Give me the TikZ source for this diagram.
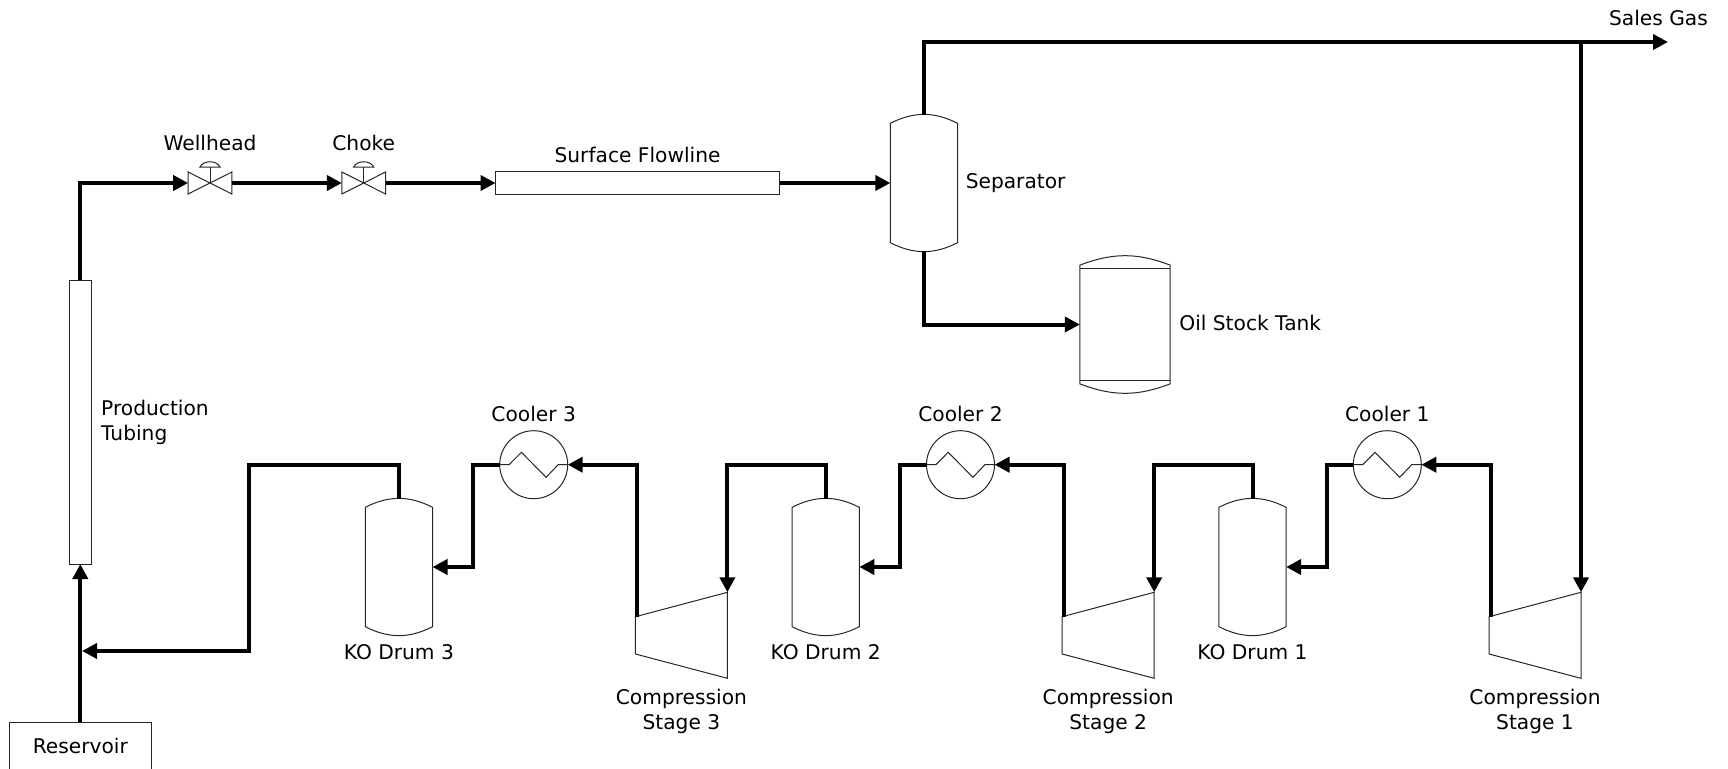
\documentclass[tikz,border=0pt]{standalone}
\usepackage{fontspec}
\setmainfont{DejaVu Sans}
\usetikzlibrary{arrows.meta,positioning,calc}
\tikzset{
 pipe/.style={-{Triangle[length=15pt,width=15pt]}, line width=4pt, draw=black},
 eqline/.style={line width=1pt, draw=black!85},
 slot/.style={rectangle, inner sep=0pt, outer sep=0pt},
 eqbox/.style={slot, draw=black!85, line width=1pt},
 valveslot/.style={slot, minimum width=43.7pt, minimum height=22pt},
 vesselslot/.style={slot, minimum width=67.2pt, minimum height=136pt},
 compslot/.style={slot, minimum width=92pt, minimum height=86pt},
 coolerblock/.style={circle, draw=black!85, line width=1pt, inner sep=0pt,
 outer sep=0pt, minimum size=68pt},
 tag/.style={font=\fontsize{20.2}{25}\selectfont, inner sep=0pt, align=center,
 text height=15pt, text depth=4pt},
 tagtwo/.style={font=\fontsize{20.2}{25}\selectfont, inner sep=0pt},
}
% vessel outline from the bounding node, #2 is the bend of the heads
\newcommand{\vesseloutline}[2]{%
 \draw[eqline] ($(#1.north west)+(0,8.3)$) to[bend left=#2] ($(#1.north east)+(0,8.3)$)
  -- ($(#1.south east)+(0,-8.3)$) to[bend left=#2] ($(#1.south west)+(0,-8.3)$) -- cycle;}
% valve body plus actuator
\newcommand{\valveoutline}[1]{%
 \draw[eqline] (#1.north west) -- (#1.south east) -- (#1.north east) -- (#1.south west) -- cycle;
 \draw[eqline] (#1.center) -- ++(0,-16);
 \draw[eqline] ($(#1.center)+(-10,-16)$) to[bend left=64] ($(#1.center)+(10,-16)$) -- cycle;}

\begin{document}
\begin{tikzpicture}[x=1pt,y=-1pt]
\useasboundingbox (0,0) rectangle (1728,768);

% Well side
\node[eqbox, minimum width=142pt, minimum height=48pt] (res) at (80.3,746) {};
\node[tag] (restag) at ($(res.center)+(0,1.5)$) {Reservoir};
\node[eqbox, minimum width=22.6pt, minimum height=284pt] (tub) at (80.3,422) {};
\node[tagtwo, align=left, anchor=west] (tubtag) at (101,422) {Production\\Tubing};

% Top row
\node[valveslot] (well) at (210,183) {};
\node[valveslot, right=110pt of well] (choke) {};
\node[eqbox, minimum width=284pt, minimum height=22.5pt, right=110pt of choke] (flow) {};
\node[vesselslot, right=110.8pt of flow] (sep) {};
\node[slot, minimum width=90.3pt, minimum height=135.3pt] (tank) at (1125,324.5) {};
\valveoutline{well}
\valveoutline{choke}
\vesseloutline{sep}{27}
\vesseloutline{tank}{21}
\draw[eqline] ($(tank.north west)+(0,11.3)$) -- ($(tank.north east)+(0,11.3)$);
\draw[eqline] ($(tank.south west)+(0,-11.3)$) -- ($(tank.south east)+(0,-11.3)$);

\node[tag, above=17pt of well] (welltag) {Wellhead};
\node[tag, above=17pt of choke] (choketag) {Choke};
\node[tag, above=5pt of flow] (flowtag) {Surface Flowline};
\node[tag, right=8pt of sep] (septag) {Separator};
\node[tag, right=9pt of tank] (tanktag) {Oil Stock Tank};
\node[tag] (salestag) at (1658.5,20) {Sales Gas};

% Compression train, right to left
\foreach \n/\dx in {1/0,2/-426.8,3/-853.6} {
\begin{scope}[xshift=\dx pt]
  \node[compslot] (comp\n) at (1535,635.3) {};
  \node[coolerblock] (cool\n) at (1387.3,464.7) {};
  \node[vesselslot] (drum\n) at (1252.5,567) {};
  \vesseloutline{drum\n}{27}
  \draw[eqline] ($(comp\n.north west)+(0,24.4)$) -- (comp\n.north east)
    -- (comp\n.south east) -- ($(comp\n.south west)+(0,-24.3)$) -- cycle;
  % coil inside the cooler
  \draw[eqline] (cool\n.west) -- ++(9.4,0) -- ++(12.3,-12.4) -- ++(24.7,25)
    -- ++(12,-12.6) -- (cool\n.east);
  \coordinate (compout\n) at ($(comp\n.north west)+(1.5,24.4)$);
  \draw[pipe] (compout\n) |- (cool\n.east);
  \draw[pipe] (cool\n.west) -- ++(-26.6,0) |- (drum\n.east);
  \node[tag, above=5pt of cool\n] (cooltag\n) {Cooler \n};
  \node[tag, below=9.5pt of drum\n] (drumtag\n) {KO Drum \n};
  \node[tagtwo, align=center, below=10.5pt of comp\n] (comptag\n) {Compression\\Stage \n};
\end{scope}
}

% Pipes between the drums and the next stage
\foreach \n/\m in {1/2,2/3} {
  \draw[pipe] (drum\n.north) -- ++(0,-34.3) -| (comp\m.north east);
}
\coordinate (retbend) at (249,465);
\coordinate (retend) at (82,651);
\coordinate (salesend) at (1668,42);
\draw[pipe] (drum3.north) |- (retbend) |- (retend);

% Main line
\draw[pipe] (res.north) -- (tub.south);
\draw[pipe] (tub.north) |- (well.west);
\draw[pipe] (well.east) -- (choke.west);
\draw[pipe] (choke.east) -- (flow.west);
\draw[pipe] (flow.east) -- (sep.west);
\draw[pipe] (sep.north) |- (salesend);
\draw[pipe] (sep.south) |- (tank.west);
\draw[pipe] (comp1.north east |- salesend) -- (comp1.north east);

\end{tikzpicture}
\end{document}
